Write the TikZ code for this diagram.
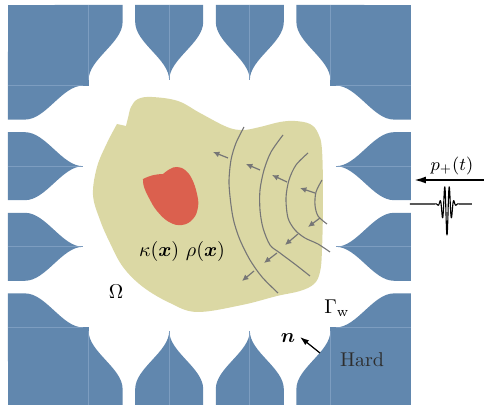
\documentclass[tikz,border=0pt]{standalone}
\usepackage{amsmath,amssymb}
\usepackage{tikz}
\usetikzlibrary{positioning,calc,arrows.meta}

\definecolor{wallblue}{RGB}{97,135,174}
\definecolor{seamblue}{RGB}{125,157,192}
\definecolor{medium}{RGB}{219,216,164}
\definecolor{inclusion}{RGB}{219,96,78}
\definecolor{wavegray}{RGB}{118,118,118}
\definecolor{hardtext}{RGB}{45,45,45}

\begin{document}
\begin{tikzpicture}[x=0.5pt,y=-0.5pt]
            \tikzstyle{wall}=[fill=wallblue]
            \tikzstyle{seam}=[draw=seamblue, line width=0.3pt]
            \tikzstyle{front}=[draw=wavegray, line width=0.55pt]
            \tikzstyle{ray}=[draw=wavegray, line width=0.6pt,
            -{Latex[length=3.2pt,width=3pt]}]
            \tikzset{horn/.pic={
                \path[wall] (-34,0) -- (-34,17) .. controls (-34,38) and (0,54) .. (0,75)
                    .. controls (0,54) and (34,38) .. (34,17) -- (34,0) -- cycle;
                \path[seam] (0,0) -- (0,75);}}

            \useasboundingbox (0,0) rectangle (484,405);
            \clip (0,0) rectangle (484,405);

            % hard walls: corner blocks and horns
            \path[wall] (8,5) rectangle (88.6,85.6);
            \path[wall] (330.4,5) rectangle (411,85.6);
            \path[wall] (8,327.4) rectangle (88.6,408);
            \path[wall] (330.4,327.4) rectangle (411,408);
            \foreach \c in {88.6,169.2,249.8,330.4} {
                \pic at (\c,5) {horn};
                \pic[rotate=180] at (\c,406) {horn};
            }
            \foreach \c in {85.6,166.2,246.8,327.4} {
                \pic[rotate=90] at (8,\c) {horn};
                \pic[rotate=-90] at (411,\c) {horn};
            }

            % medium and inclusion
            \path[fill=medium] plot[smooth, tension=0.6] coordinates {
                (117,124) (107,143) (97,167) (93,195) (100,220) (110,243)
                (123,267) (143,287) (170,303) (197,312) (242,305) (277,296)
                (300,291) (314,284) (320,272) (322,250) (323,200) (322,150)
                (318,133) (310,124) (295,121) (280,122) (260,127) (243,130)
                (227,127) (200,113) (178,101) (152,97) (138,99) (131,107)
                (128,118) (126,126)} -- cycle;
            \path[fill=inclusion] plot[smooth, tension=0.7] coordinates {
                (163,174) (170,169) (177,167) (185,170) (192,179) (197,194)
                (198,207) (193,219) (182,225) (169,222) (157,211) (149,198)
                (144,187) (143,179)} to[bend left=12] cycle;

            % wave fronts
            \draw[front] plot[smooth] coordinates {(244,127) (236,143) (231,160)
                (229,182) (231,205) (234,222) (240,240) (250,260) (262,277) (278,293)};
            \draw[front] plot[smooth] coordinates {(283,135) (271,152) (264,170)
                (260,190) (260,210) (263,228) (270,245) (280,253) (296,265) (310,276)};
            \draw[front] plot[smooth] coordinates {(308,153) (296,165) (289,180)
                (286,198) (288,218) (295,230) (305,238) (318,244) (330,252)};
            \draw[front] plot[smooth] coordinates {(322,180) (316,192) (315,205)
                (318,216) (327,224)};

            \coordinate (r1) at (228,158);  \coordinate (s1) at (213,152);
            \coordinate (r2) at (260,170);  \coordinate (s2) at (246,164);
            \coordinate (r3) at (287,182);  \coordinate (s3) at (272,175);
            \coordinate (r4) at (315,193);  \coordinate (s4) at (300,188);
            \coordinate (r5) at (320,218);  \coordinate (s5) at (308,227);
            \coordinate (r6) at (298,234);  \coordinate (s6) at (285,245);
            \coordinate (r7) at (277,253);  \coordinate (s7) at (264,263);
            \coordinate (r8) at (254,271);  \coordinate (s8) at (242,281);
            \foreach \i in {1,...,8}
                \path (r\i) edge[ray] (s\i);

            % labels
            \node (kr) at (182,252) {$\kappa(\boldsymbol{x})\ \rho(\boldsymbol{x})$};
            \node (om) at (116,292) {$\Omega$};
            \node (gw) at (337,308) {$\Gamma_{\mathrm{w}}$};
            \node (nn) at (288,338) {$\boldsymbol{n}$};
            \node[text=hardtext] (hard) at (362,360) {Hard};
            \coordinate (nb) at (320,353);
            \coordinate (nt) at (300,337);
            \path (nb) edge[line width=0.6pt, -{Latex[length=4.5pt,width=3pt]}] (nt);

            % incident pulse
            \coordinate (src) at (484,180);
            \coordinate (srctip) at (414,180);
            \path (src) edge[line width=0.9pt, -{Latex[length=6pt,width=3.5pt]}] (srctip);
            \node (pp) at (452,166) {\small $p_+(t)$};
            \draw[line width=0.55pt, line join=round] (410,204) -- (432,204)
                -- plot[domain=432:462, samples=240]
                (\x, {204+exp(-((\x-447)/5)^2)*(26*cos(360*(\x-447)/4.6)+5)})
                -- (472,204);
        \end{tikzpicture}
\end{document}
